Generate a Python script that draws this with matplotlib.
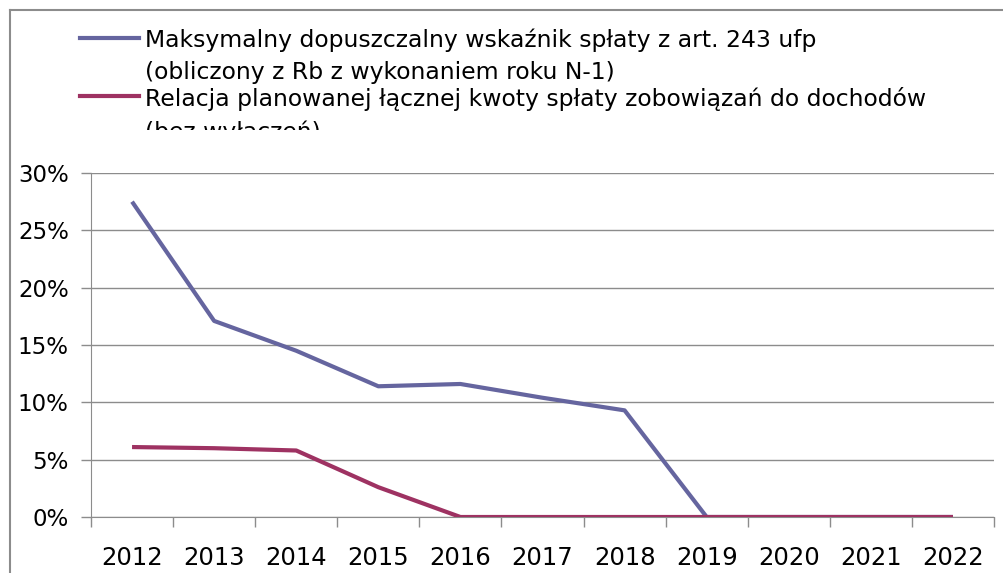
import matplotlib.pyplot as plt
from matplotlib.lines import Line2D
from matplotlib.patches import Rectangle
from matplotlib.ticker import PercentFormatter, FixedLocator

# data
years = ["2012", "2013", "2014", "2015", "2016", "2017", "2018", "2019", "2020", "2021", "2022"]
max_ratio = [27.5, 17.1, 14.5, 11.4, 11.6, 10.4, 9.3, 0, 0, 0, 0]
plan_ratio = [6.1, 6.0, 5.8, 2.6, 0, 0, 0, 0, 0, 0, 0]
labels = [
    "Maksymalny dopuszczalny wskaźnik spłaty z art. 243 ufp\n(obliczony z Rb z wykonaniem roku N-1)",
    "Relacja planowanej łącznej kwoty spłaty zobowiązań do dochodów\n(bez wyłączeń)",
]
colors = ["#65659F", "#9E3262"]

W, H = 1004, 573
fig = plt.figure(figsize=(W / 100, H / 100), dpi=100)
ax = fig.add_axes([91 / W, 1 - 517 / H, (994 - 91) / W, (517 - 173) / H])

x = list(range(len(years)))
ax.plot(x, [v / 100 for v in max_ratio], color=colors[0], lw=3, solid_capstyle="butt", zorder=3)
ax.plot(x, [v / 100 for v in plan_ratio], color=colors[1], lw=3, solid_capstyle="butt", zorder=3)

ax.set_xlim(-0.5, len(years) - 0.5)
ax.set_ylim(0, 0.30)
ax.set_yticks([0, 0.05, 0.10, 0.15, 0.20, 0.25, 0.30])
ax.yaxis.set_major_formatter(PercentFormatter(1.0, decimals=0))
ax.set_xticks(x)
ax.set_xticklabels(years)
ax.xaxis.set_minor_locator(FixedLocator([i - 0.5 for i in range(len(years) + 1)]))

grid_c = "#8C8C8C"
ax.grid(axis="y", color=grid_c, lw=1)
ax.set_axisbelow(True)
for s in ["top", "right"]:
    ax.spines[s].set_visible(False)
for s in ["left", "bottom"]:
    ax.spines[s].set_color(grid_c)

ax.tick_params(axis="x", which="major", length=0, pad=21, labelsize=17.5)
ax.tick_params(axis="x", which="minor", length=7, color=grid_c, width=1)
ax.tick_params(axis="y", length=7, color=grid_c, width=1, pad=9, labelsize=16.5)

# outer chart frame (top and left edges visible)
fig.add_artist(Line2D([10 / W, 1], [1 - 10 / H, 1 - 10 / H], color="#8C8C8C", lw=1.5))
fig.add_artist(Line2D([10 / W, 10 / W], [0, 1 - 10 / H], color="#8C8C8C", lw=1.5))

# legend
for i, (lab, c) in enumerate(zip(labels, colors)):
    yy = [38, 96][i]
    fig.add_artist(Line2D([80 / W, 139 / W], [1 - yy / H, 1 - yy / H], color=c, lw=3))
    fig.text(145 / W, 1 - (yy - 9) / H, lab, fontsize=16.9, va="top", ha="left",
             linespacing=1.5, zorder=3)

# the original legend box cuts off its last line
fig.add_artist(Rectangle((12 / W, 1 - 160 / H), 1, 30 / H, facecolor="white",
                         edgecolor="none", zorder=5))

fig.savefig("out.png", dpi=100)
